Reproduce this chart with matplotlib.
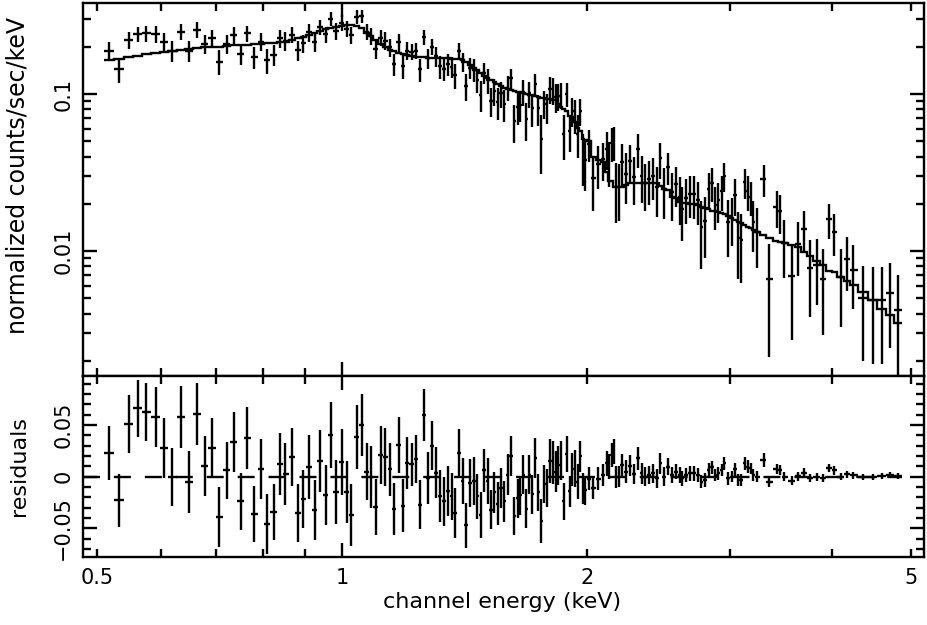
import numpy as np
import matplotlib.pyplot as plt
from matplotlib.ticker import LogLocator, MultipleLocator, FuncFormatter, NullFormatter

plt.rcParams["font.family"] = "DejaVu Sans"
plt.rcParams["font.size"] = 15

# channel centres (keV)
energy = np.array([
    0.517, 0.532, 0.547, 0.561, 0.575, 0.590, 0.604, 0.619, 0.634, 0.648,
    0.663, 0.678, 0.692, 0.707, 0.722, 0.736, 0.751, 0.765, 0.780, 0.795,
    0.808, 0.824, 0.839, 0.852, 0.868, 0.883, 0.896, 0.911, 0.926, 0.940,
    0.955, 0.969, 0.983, 0.999, 1.015, 1.026, 1.042, 1.057, 1.073, 1.084,
    1.100, 1.117, 1.129, 1.146, 1.158, 1.175, 1.188, 1.202, 1.218, 1.232,
    1.247, 1.261, 1.276, 1.290, 1.305, 1.319, 1.335, 1.349, 1.364, 1.377,
    1.392, 1.407, 1.420, 1.436, 1.453, 1.467, 1.480, 1.495, 1.510, 1.524,
    1.538, 1.553, 1.568, 1.583, 1.598, 1.613, 1.628, 1.644, 1.654, 1.670,
    1.684, 1.697, 1.713, 1.727, 1.742, 1.757, 1.772, 1.786, 1.801, 1.817,
    1.830, 1.843, 1.858, 1.872, 1.888, 1.904, 1.918, 1.933, 1.948, 1.963,
    1.979, 1.988, 2.011, 2.035, 2.064, 2.095, 2.118, 2.130, 2.144, 2.160,
    2.174, 2.190, 2.206, 2.232, 2.257, 2.283, 2.309, 2.334, 2.358, 2.386,
    2.414, 2.441, 2.461, 2.484, 2.518, 2.545, 2.576, 2.601, 2.620, 2.650,
    2.680, 2.710, 2.740, 2.765, 2.794, 2.823, 2.849, 2.873, 2.900, 2.927,
    2.949, 2.980, 3.011, 3.042, 3.068, 3.094, 3.124, 3.151, 3.178, 3.202,
    3.233, 3.297, 3.35, 3.42, 3.45, 3.49, 3.57, 3.63, 3.70, 3.76,
    3.83, 3.90, 3.97, 4.02, 4.10, 4.17, 4.25, 4.37, 4.49, 4.61,
    4.71, 4.82,
])

# folded model (counts/sec/keV)
model = np.array([
    0.165, 0.167, 0.171, 0.175, 0.180, 0.183, 0.186, 0.189, 0.192, 0.194,
    0.196, 0.198, 0.199, 0.200, 0.202, 0.204, 0.205, 0.206, 0.208, 0.209,
    0.210, 0.212, 0.214, 0.216, 0.220, 0.226, 0.232, 0.238, 0.245, 0.252,
    0.258, 0.262, 0.266, 0.271, 0.275, 0.275, 0.272, 0.262, 0.245, 0.235,
    0.222, 0.208, 0.200, 0.191, 0.187, 0.182, 0.179, 0.176, 0.174, 0.172,
    0.171, 0.171, 0.170, 0.170, 0.170, 0.169, 0.169, 0.169, 0.168, 0.167,
    0.166, 0.164, 0.159, 0.153, 0.147, 0.142, 0.136, 0.131, 0.126, 0.122,
    0.119, 0.115, 0.112, 0.110, 0.108, 0.106, 0.105, 0.1035, 0.103, 0.101,
    0.100, 0.099, 0.098, 0.097, 0.096, 0.095, 0.094, 0.093, 0.0925, 0.092,
    0.091, 0.086, 0.083, 0.080, 0.078, 0.072, 0.071, 0.066, 0.061, 0.058,
    0.052, 0.051, 0.050, 0.040, 0.038, 0.037, 0.032, 0.028, 0.028, 0.0256,
    0.0256, 0.0256, 0.0256, 0.0262, 0.027, 0.027, 0.027, 0.027, 0.027, 0.027,
    0.027, 0.027, 0.026, 0.0249, 0.0245, 0.022, 0.0218, 0.0205, 0.0202, 0.0202,
    0.0200, 0.0198, 0.0195, 0.019, 0.0187, 0.0184, 0.0181, 0.018, 0.0178, 0.0175,
    0.0172, 0.0168, 0.0162, 0.0157, 0.0153, 0.015, 0.0146, 0.0143, 0.0140, 0.0137,
    0.0133, 0.0126, 0.0121, 0.0116, 0.0114, 0.0112, 0.0109, 0.0106, 0.0099, 0.0093,
    0.0087, 0.0081, 0.0075, 0.0073, 0.0068, 0.0064, 0.0061, 0.0055, 0.0049, 0.0043,
    0.0039, 0.0035,
])

# residuals (data - model)
resid = np.array([
    0.023, -0.023, 0.051, 0.066, 0.063, 0.058, 0.028, 0.000, 0.058, -0.005,
    0.061, 0.010, 0.028, -0.039, 0.006, 0.034, -0.024, 0.037, -0.036, 0.007,
    -0.046, -0.034, 0.012, 0.003, 0.019, -0.035, -0.022, 0.009, -0.032, 0.015,
    -0.018, 0.040, -0.015, 0.014, -0.015, -0.037, 0.038, 0.050, 0.005, 0.000,
    -0.029, 0.021, 0.019, 0.007, -0.031, 0.031, -0.028, 0.013, 0.012, 0.017,
    -0.027, 0.060, -0.001, 0.030, 0.004, -0.019, -0.024, -0.014, -0.019, -0.035,
    0.023, -0.004, -0.047, -0.006, -0.004, -0.019, -0.037, 0.006, -0.004, -0.032,
    -0.015, -0.026, -0.011, -0.024, 0.002, 0.020, -0.038, -0.021, -0.018, 0.002,
    -0.031, 0.002, -0.017, 0.018, -0.015, -0.043, -0.007, -0.011, 0.015, 0.014,
    0.005, 0.011, 0.016, -0.024, 0.022, -0.014, 0.007, 0.008, -0.005, 0.020,
    -0.011, -0.013, -0.002, -0.011, -0.002, 0.0016, 0.0129, 0.0097, 0.021, 0.024,
    0.0, 0.0, 0.0113, 0.0048, 0.0106, 0.0026, 0.0177, 0.0032, 0.0, 0.0016,
    0.0032, -0.0016, 0.0129, 0.0, 0.0097, 0.0016, 0.0048, 0.0016, -0.0016, 0.0016,
    0.0032, 0.0032, 0.0016, -0.0048, -0.0032, 0.0065, 0.0090, 0.0016, 0.0032, 0.0065,
    0.0129, -0.0016, 0.0, 0.0071, -0.0032, -0.0032, 0.0129, 0.0097, 0.0081, 0.0016,
    0.0, 0.016, -0.0055, 0.0075, 0.0065, 0.0, -0.004, 0.0005, 0.004, -0.0015,
    -0.0005, -0.0015, 0.0085, 0.006, 0.0, 0.0025, 0.0015, -0.0005, 0.0, 0.0006,
    0.0015, 0.0007,
])

# 1-sigma errors
err = np.array([
    0.026, 0.026, 0.028, 0.028, 0.028, 0.029, 0.029, 0.028, 0.030, 0.030,
    0.030, 0.029, 0.029, 0.029, 0.028, 0.029, 0.028, 0.030, 0.027, 0.029,
    0.029, 0.027, 0.030, 0.030, 0.028, 0.028, 0.028, 0.031, 0.029, 0.030,
    0.029, 0.032, 0.031, 0.032, 0.030, 0.030, 0.031, 0.030, 0.028, 0.030,
    0.027, 0.028, 0.028, 0.026, 0.025, 0.027, 0.026, 0.025, 0.021, 0.023,
    0.024, 0.025, 0.025, 0.024, 0.025, 0.025, 0.024, 0.024, 0.023, 0.024,
    0.023, 0.022, 0.022, 0.023, 0.023, 0.022, 0.022, 0.021, 0.022, 0.019,
    0.020, 0.021, 0.019, 0.020, 0.020, 0.019, 0.018, 0.019, 0.019, 0.019,
    0.019, 0.019, 0.019, 0.019, 0.018, 0.021, 0.018, 0.018, 0.021, 0.021,
    0.020, 0.019, 0.019, 0.018, 0.017, 0.015, 0.016, 0.018, 0.017, 0.015,
    0.015, 0.014, 0.011, 0.011, 0.011, 0.0105, 0.012, 0.012, 0.012, 0.012,
    0.0105, 0.010, 0.011, 0.011, 0.010, 0.010, 0.011, 0.010, 0.009, 0.009,
    0.009, 0.009, 0.010, 0.009, 0.008, 0.008, 0.0075, 0.0075, 0.007, 0.007,
    0.007, 0.007, 0.0065, 0.0065, 0.0065, 0.0065, 0.0065, 0.006, 0.006, 0.006,
    0.0065, 0.006, 0.0055, 0.006, 0.0055, 0.0055, 0.006, 0.006, 0.0055, 0.0055,
    0.0055, 0.0065, 0.0045, 0.005, 0.005, 0.0045, 0.0042, 0.0042, 0.0042, 0.004,
    0.0037, 0.0037, 0.004, 0.004, 0.0035, 0.0033, 0.0033, 0.003, 0.003, 0.003,
    0.003, 0.0028,
])

rate = model + resid

# channel boundaries halfway (in log) between neighbouring centres
mid = np.sqrt(energy[:-1] * energy[1:])
edges = np.concatenate([[energy[0] ** 2 / mid[0]], mid, [energy[-1] ** 2 / mid[-1]]])
xerr = [energy - edges[:-1], edges[1:] - energy]

xlo, xhi = 0.4805, 5.19
lw = 1.7

fig = plt.figure(figsize=(9.28, 6.25), dpi=100)
ax1 = fig.add_axes([0.0894, 0.3989, 0.9063, 0.5963])
ax2 = fig.add_axes([0.0894, 0.1093, 0.9063, 0.2896])

ax1.errorbar(energy, rate, yerr=err, xerr=xerr, fmt="none",
             ecolor="k", elinewidth=lw, capsize=0)
ax1.stairs(model, edges, baseline=None, color="k", lw=lw)

ax2.errorbar(energy, resid, yerr=err, xerr=xerr, fmt="none",
             ecolor="k", elinewidth=lw, capsize=0)
ax2.hlines(0, xlo, edges[-1], colors="k", lw=lw, linestyles=(0, (7.2, 5.9)))

for ax in (ax1, ax2):
    ax.set_xscale("log")
    ax.set_xlim(xlo, xhi)
    ax.xaxis.set_major_locator(LogLocator(base=10))
    ax.xaxis.set_minor_locator(LogLocator(base=10, subs=np.arange(2, 10)))
    ax.tick_params(which="both", direction="in", top=True, right=True,
                   width=lw, labelsize=15, color="k")
    ax.tick_params(which="major", length=10)
    ax.tick_params(which="minor", length=5.5)
    ax.tick_params(axis="x", which="both", pad=8)
    ax.tick_params(axis="y", which="both", pad=7, labelrotation=90)
    for s in ax.spines.values():
        s.set_linewidth(lw)

# top panel
ax1.set_yscale("log")
ax1.set_ylim(0.001607, 0.38)
ax1.yaxis.set_major_formatter(FuncFormatter(lambda v, p: f"{v:g}"))
ax1.yaxis.set_minor_formatter(NullFormatter())
ax1.xaxis.set_major_formatter(NullFormatter())
ax1.xaxis.set_minor_formatter(NullFormatter())
ax1.set_ylabel("normalized counts/sec/keV", fontsize=17)
ax1.yaxis.set_label_coords(-0.064, 0.538)

# residual panel
ax2.set_ylim(-0.0774, 0.0977)
ax2.set_yticks([-0.05, 0, 0.05], ["\u22120.05", "0", "0.05"])
ax2.yaxis.set_minor_locator(MultipleLocator(0.01))
ax2.xaxis.set_major_formatter(FuncFormatter(lambda v, p: f"{v:g}"))
ax2.xaxis.set_minor_formatter(
    FuncFormatter(lambda v, p: f"{v:g}" if round(v, 3) in (0.5, 2.0, 5.0) else ""))
ax2.set_ylabel("residuals", fontsize=16)
ax2.yaxis.set_label_coords(-0.064, 0.5)
ax2.set_xlabel("channel energy (keV)", fontsize=16)
ax2.xaxis.set_label_coords(0.498, -0.284)
ax2.xaxis.label.set_va("baseline")

for ax in (ax1, ax2):
    plt.setp(ax.get_yticklabels(), va="center")

fig.savefig("out.png", dpi=100)
